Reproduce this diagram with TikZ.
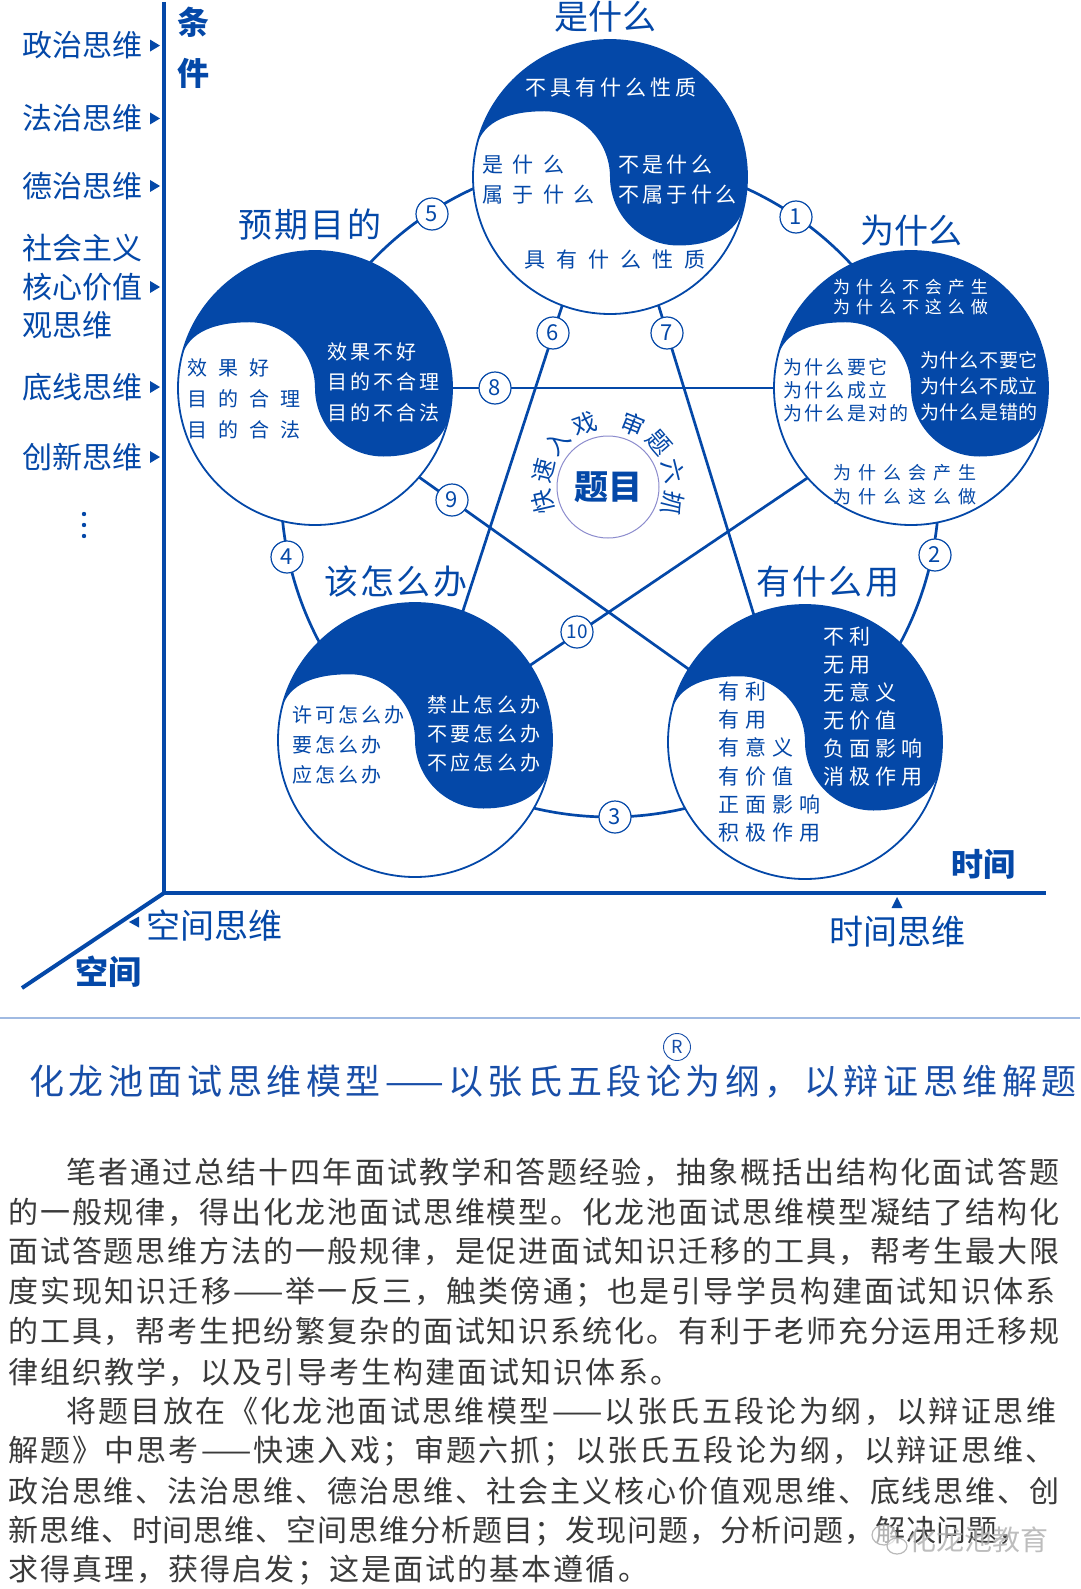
\documentclass[tikz,border=0pt]{standalone}
\usepackage{fontspec}
\setmainfont{Noto Sans CJK SC}
\definecolor{mb}{RGB}{4,72,168}
\definecolor{tb}{RGB}{24,78,168}
\definecolor{bodyg}{RGB}{58,58,58}
\definecolor{sepc}{RGB}{160,186,226}
\definecolor{lav}{RGB}{140,140,205}
\newcommand\fsz[2]{\fontsize{#1}{#2}\selectfont}
\newcommand\lsp[1]{\addfontfeature{LetterSpace=#1}}
\newcommand\taiji[2]{%
  \node[circle, fill=white, minimum size=274, inner sep=0, outer sep=0] (#1) at (#2) {};
  \begin{scope}[shift={(#1.center)}, scale=137]
    \fill[mb] (168:1) arc[start angle=168, end angle=-12, radius=1]
      to[out=-102,in=0] (0.5,-0.5) to[out=180,in=-90] (0,0)
      to[out=90,in=0] (-0.48,0.48) to[out=180,in=78] (168:1) -- cycle;
  \end{scope}
  \draw[mb, line width=1.8] (#1.center) circle[radius=137];
}
\tikzset{
  conn/.style={draw=mb, line width=2.7},
  numc/.style={circle, draw=mb, line width=1.2, fill=white, inner sep=0, minimum size=32, text=mb, font=\fsz{22}{22}},
  ttl/.style={text=mb, font=\fsz{34}{34}, inner sep=0},
  wt/.style={text=white, inner sep=0, anchor=west, align=left},
  bt/.style={text=mb, inner sep=0, anchor=west, align=left},
  side/.style={text=mb, font=\fsz{30}{30}, inner sep=0, anchor=west},
  body/.style={text=bodyg, inner sep=0, anchor=west},
  axis/.style={draw=mb, line width=4, line join=miter},
  bold/.style={text=mb, font=\fsz{32}{32}\bfseries, inner sep=0},
}
\begin{document}
\begin{tikzpicture}[x=1pt,y=1pt]
\useasboundingbox (0,0) rectangle (1080,-1589);
\fill[white] (0,0) rectangle (1080,-1589);

% centres
\coordinate (cT) at (610,-177);
\coordinate (cR) at (911,-388);
\coordinate (cL) at (315,-388);
\coordinate (cBL) at (415,-740);
\coordinate (cBR) at (805,-742);
\coordinate (ring) at (610,-488);

% ring
\draw[conn] (ring) circle[radius=329];

% star line end points
\coordinate (s6a) at (604,-177);  \coordinate (s6b) at (421,-740);
\coordinate (s7a) at (619,-177);  \coordinate (s7b) at (793,-742);
\coordinate (s9a) at (315,-403);  \coordinate (s9b) at (805,-752);
\coordinate (s10a) at (415,-743); \coordinate (s10b) at (911,-408);

\draw[conn] (s6a) -- (s6b);
\draw[conn] (s7a) -- (s7b);
\draw[conn] (cL) -- (cR);
\draw[conn] (s9a) -- (s9b);
\draw[conn] (s10a) -- (s10b);

% taiji circles
\taiji{T}{cT}
\taiji{R}{cR}
\taiji{L}{cL}
\taiji{BL}{cBL}
\taiji{BR}{cBR}

% number labels
\node[numc] (n1) at (796,-217) {1};
\node[numc] (n2) at (935,-555) {2};
\node[numc] (n3) at (615,-817) {3};
\node[numc] (n4) at (287,-557) {4};
\node[numc] (n5) at (432,-214) {5};
\node[numc] (n6) at (553,-333) {6};
\node[numc] (n7) at (667,-333) {7};
\node[numc] (n8) at (495,-388) {8};
\node[numc] (n9) at (452,-500) {9};
\node[numc, font=\fsz{19}{19}] (n10) at (577,-632) {10};

% centre
\node[circle, draw=lav, line width=1, fill=white, minimum size=102, inner sep=0] (tm) at (608,-487) {};
\node[text=mb, font=\fsz{34}{34}\bfseries, inner sep=0] (tmt) at (tm.center) {题目};
\foreach \ch/\ang [count=\i] in {快/193, 速/166, 入/139, 戏/110, 审/68, 题/41, 六/14, 抓/-14}
  \node[text=mb, font=\fsz{24}{24}, inner sep=0, rotate=\ang-90] (arc\i) at ([shift={(\ang:67)}]tm.center) {\ch};

% titles
\node[ttl] (h1) at (605,-17) {是什么};
\node[ttl] (h2) at (911,-231) {为什么};
\node[ttl, font=\fsz{34}{34}\lsp{6}] (h3) at (310,-225) {预期目的};
\node[ttl, font=\fsz{34}{34}\lsp{6}] (h4) at (396,-582) {该怎么办};
\node[ttl, font=\fsz{34}{34}\lsp{6}] (h5) at (828,-582) {有什么用};

% top circle texts
\node[text=white, inner sep=0, font=\fsz{21}{21}\lsp{19}] (t1) at (611,-88) {不具有什么性质};
\node[bt, font=\fsz{21}{30}\lsp{45}] (t2) at (482,-180) {是什么\\属于什么};
\node[wt, font=\fsz{21}{30}\lsp{16}] (t3) at (618,-180) {不是什么\\不属于什么};
\node[text=mb, inner sep=0, font=\fsz{21}{21}\lsp{52}] (t4) at (615,-260) {具有什么性质};

% right circle texts
\node[wt, font=\fsz{17}{20.7}\lsp{35}] (r1) at (833,-297) {为什么不会产生\\为什么不这么做};
\node[bt, font=\fsz{19}{23}\lsp{12}] (r2) at (783,-390) {为什么要它\\为什么成立\\为什么是对的};
\node[wt, font=\fsz{19}{26}\lsp{4}] (r3) at (920,-386) {为什么不要它\\为什么不成立\\为什么是错的};
\node[bt, font=\fsz{18}{24}\lsp{39}] (r4) at (833,-485) {为什么会产生\\为什么这么做};

% left circle texts
\node[wt, font=\fsz{20}{30.5}\lsp{15}] (l1) at (327,-382) {效果不好\\目的不合理\\目的不合法};
\node[bt, font=\fsz{20}{31}\lsp{55}] (l2) at (187,-399) {效果好\\目的合理\\目的合法};

% bottom-left circle texts
\node[wt, font=\fsz{20}{29}\lsp{17}] (bl1) at (427,-734) {禁止怎么办\\不要怎么办\\不应怎么办};
\node[bt, font=\fsz{20}{30}\lsp{15}] (bl2) at (292,-745) {许可怎么办\\要怎么办\\应怎么办};

% bottom-right circle texts
\node[wt, font=\fsz{21}{28}\lsp{24}] (br1) at (823,-707) {不利\\无用\\无意义\\无价值\\负面影响\\消极作用};
\node[bt, font=\fsz{21}{28.2}\lsp{29}] (br2) at (718,-762) {有利\\有用\\有意义\\有价值\\正面影响\\积极作用};

% axes
\coordinate (O) at (164,-893);
\coordinate (Ytop) at (164,-2);
\coordinate (Xend) at (1046,-893);
\coordinate (Zend) at (22,-988);
\draw[axis] (Ytop) -- (O) -- (Xend);
\draw[axis] (O) -- (Zend);

% side labels
\node[side] (p1) at (22,-45.6) {政治思维};
\node[side] (p2) at (22,-118.5) {法治思维};
\node[side] (p3) at (22,-186) {德治思维};
\node[side] (p4a) at (22,-248) {社会主义};
\node[side] (p4) at (22,-287) {核心价值};
\node[side] (p4b) at (22,-325) {观思维};
\node[side] (p5) at (22,-387) {底线思维};
\node[side] (p6) at (22,-457) {创新思维};
\foreach \yy in {45.6,118.5,186,287,387,457}
  \fill[mb] (150,-\yy+6) -- (160,-\yy) -- (150,-\yy-6) -- cycle;
\foreach \yy in {514,525,536}
  \fill[mb] (84,-\yy) circle[radius=2.2];

\node[bold] (k1) at (193,-22) {条};
\node[bold] (k2) at (193,-73) {件};
\node[bold] (k3) at (983,-864) {时间};
\node[bold, font=\fsz{33}{33}\bfseries] (k4) at (108,-972) {空间};
\node[text=mb, font=\fsz{34}{34}, inner sep=0, anchor=west] (k5) at (146,-925) {空间思维};
\fill[mb] (129,-922) -- (139,-916.5) -- (139,-927.5) -- cycle;
\node[text=mb, font=\fsz{34}{34}, inner sep=0] (k6) at (897,-932) {时间思维};
\fill[mb] (897,-897) -- (902.5,-908) -- (891.5,-908) -- cycle;

% separator
\coordinate (sepL) at (0,-1018);
\coordinate (sepR) at (1080,-1018);
\draw[sepc, line width=1.5] (sepL) -- (sepR);

% title
\node[text=tb, font=\fsz{35}{35}\lsp{13}, inner sep=0] (title) at (553,-1082) {化龙池面试思维模型——以张氏五段论为纲，以辩证思维解题};
\node[circle, draw=tb, line width=0.9, minimum size=27, inner sep=0, text=tb, font=\fsz{18}{18}] (reg) at (677,-1047) {R};

% body
\node[body, font=\fsz{30}{30}\lsp{7.0}] (b1) at (66,-1172) {笔者通过总结十四年面试教学和答题经验，抽象概括出结构化面试答题};
\node[body, font=\fsz{30}{30}\lsp{6.4}] (b2) at (8,-1212) {的一般规律，得出化龙池面试思维模型。化龙池面试思维模型凝结了结构化};
\node[body, font=\fsz{30}{30}\lsp{6.4}] (b3) at (8,-1251) {面试答题思维方法的一般规律，是促进面试知识迁移的工具，帮考生最大限};
\node[body, font=\fsz{30}{30}\lsp{7.2}] (b4) at (8,-1292) {度实现知识迁移——举一反三，触类傍通；也是引导学员构建面试知识体系};
\node[body, font=\fsz{30}{30}\lsp{6.4}] (b5) at (8,-1331) {的工具，帮考生把纷繁复杂的面试知识系统化。有利于老师充分运用迁移规};
\node[body, font=\fsz{30}{30}\lsp{7.0}] (b6) at (8,-1372) {律组织教学，以及引导考生构建面试知识体系。};
\node[body, font=\fsz{30}{30}\lsp{8.0}] (b7) at (66,-1411) {将题目放在《化龙池面试思维模型——以张氏五段论为纲，以辩证思维};
\node[body, font=\fsz{30}{30}\lsp{7.2}] (b8) at (8,-1451) {解题》中思考——快速入戏；审题六抓；以张氏五段论为纲，以辩证思维、};
\node[body, font=\fsz{30}{30}\lsp{6.4}] (b9) at (8,-1491) {政治思维、法治思维、德治思维、社会主义核心价值观思维、底线思维、创};
\node[body, font=\fsz{30}{30}\lsp{3.2}] (b10) at (8,-1531) {新思维、时间思维、空间思维分析题目；发现问题，分析问题，解决问题，};
\node[body, font=\fsz{30}{30}\lsp{7.0}] (b11) at (8,-1570) {求得真理，获得启发；这是面试的基本遵循。};

% watermark
\draw[gray!55, line width=1.2, fill=white, fill opacity=0.6] (884,-1535) ellipse[x radius=12, y radius=10];
\draw[gray!55, line width=1.2, fill=white, fill opacity=0.6] (897,-1546) ellipse[x radius=10, y radius=8];
\node[text=gray!60, text opacity=0.85, font=\fsz{28}{28}, inner sep=0, anchor=west] (wm) at (908,-1540) {化龙池教育};
\end{tikzpicture}
\end{document}
